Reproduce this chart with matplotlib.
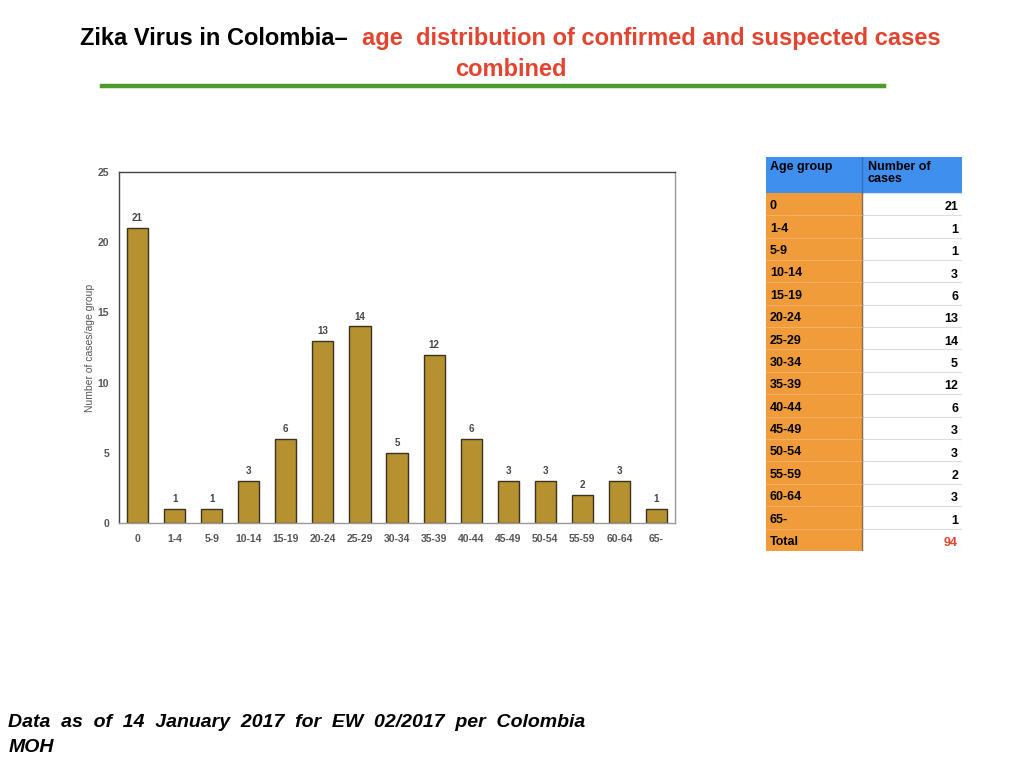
import matplotlib.pyplot as plt
from matplotlib.patches import Rectangle

plt.rcParams['font.family'] = ['Liberation Sans', 'DejaVu Sans']

age_groups = ["0", "1-4", "5-9", "10-14", "15-19", "20-24", "25-29", "30-34",
              "35-39", "40-44", "45-49", "50-54", "55-59", "60-64", "65-"]
cases = [21, 1, 1, 3, 6, 13, 14, 5, 12, 6, 3, 3, 2, 3, 1]
total = sum(cases)

bar_color = "#B5922F"
red = "#E2442F"

fig = plt.figure(figsize=(10.24, 7.68), dpi=100)

# title
fig.text(0.0781, 0.950, "Zika Virus in Colombia\u2013", fontsize=17, fontweight="bold",
         color="black", ha="left", va="center")
fig.text(0.3535, 0.950, "age  distribution of confirmed and suspected cases", fontsize=17,
         fontweight="bold", color=red, ha="left", va="center")
fig.text(0.499, 0.909, "combined", fontsize=17, fontweight="bold", color=red,
         ha="center", va="center")
fig.add_artist(plt.Line2D([0.0996, 0.8633], [0.888, 0.888], color="#4C9A2A", lw=3.2))

# bar chart
ax = fig.add_axes([0.1162, 0.319, 0.543, 0.457])
x = range(len(age_groups))
ax.bar(x, cases, width=0.57, color=bar_color, edgecolor="#3A3120", linewidth=1.0)
for i, v in enumerate(cases):
    ax.text(i, v + 0.35, str(v), ha="center", va="bottom", fontsize=7,
            fontweight="bold", color="#444444")
ax.set_xlim(-0.5, len(age_groups) - 0.5)
ax.set_ylim(0, 25)
ax.set_yticks([0, 5, 10, 15, 20, 25])
ax.set_xticks(list(x))
ax.set_xticklabels(age_groups)
ax.tick_params(length=0, labelsize=7.5, colors="#555555", pad=8)
for lab in ax.get_xticklabels() + ax.get_yticklabels():
    lab.set_fontweight("bold")
ax.tick_params(axis="y", pad=7)
ax.set_ylabel("Number of cases/age group", fontsize=7.5, color="#555555")
ax.yaxis.set_label_coords(-0.043, 0.5)
for s in ["top", "left"]:
    ax.spines[s].set_color("#444444")
for s in ["bottom", "right"]:
    ax.spines[s].set_color("#999999")
for s in ax.spines.values():
    s.set_linewidth(1.0)

# table
tab = fig.add_axes([0.748, 0.2826, 0.1914, 0.5130])
n_rows = len(age_groups) + 1
header_h = 1.6
tab.set_xlim(0, 2)
tab.set_ylim(n_rows + header_h, 0)
tab.axis("off")
orange = "#F19C3A"
blue = "#3F8FEF"
tab.add_patch(Rectangle((0, 0), 2, header_h, facecolor=blue, edgecolor="none"))
tab.plot([0.985, 0.985], [0, header_h], color="#2E6FC0", lw=1)
tab.text(0.04, 0.2, "Age group", fontsize=9, fontweight="bold", va="top", ha="left")
tab.text(1.04, 0.2, "Number of\ncases", fontsize=9, fontweight="bold", va="top",
         ha="left", linespacing=1.0)
rows = age_groups + ["Total"]
vals = cases + [total]
for i, (g, v) in enumerate(zip(rows, vals)):
    y0 = header_h + i
    tab.add_patch(Rectangle((0, y0), 0.985, 1, facecolor=orange, edgecolor="none"))
    tab.add_patch(Rectangle((0.985, y0), 1.015, 1, facecolor="white",
                            edgecolor="#DDDDDD", lw=0.8))
    tab.plot([0.985, 0.985], [y0, y0 + 1], color="#8A6A40", lw=1)
    if i > 0:
        tab.plot([0, 0.985], [y0, y0], color="#F4B46A", lw=0.6)
    tab.text(0.04, y0 + 0.6, g, fontsize=9, fontweight="bold", va="center", ha="left")
    tab.text(1.96, y0 + 0.65, str(v), fontsize=9, fontweight="bold", va="center",
             ha="right", color=red if g == "Total" else "black")

# footer
fig.text(0.008, 0.0425, "Data  as  of  14  January  2017  for  EW  02/2017  per  Colombia\nMOH",
         fontsize=14, fontweight="bold", fontstyle="italic", ha="left", va="center",
         linespacing=1.6)

fig.savefig("out.png", dpi=100)
